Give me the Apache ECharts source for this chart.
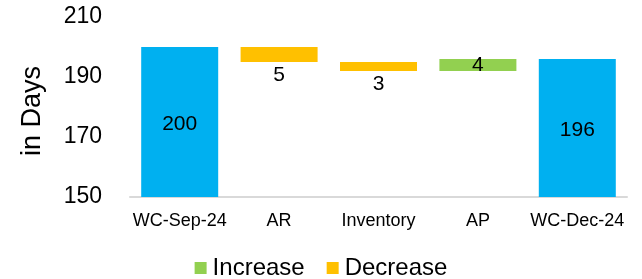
<!DOCTYPE html>
<html>
<head>
<meta charset="utf-8">
<script src="https://cdn.jsdelivr.net/npm/echarts@6/dist/echarts.min.js"></script>
<style>html,body{margin:0;padding:0;background:#fff}#c{width:642px;height:279px}</style>
</head>
<body>
<div id="c"></div>
<script>
var categories = ['WC-Sep-24', 'AR', 'Inventory', 'AP', 'WC-Dec-24'];
var totals = [200, '-', '-', '-', 196];
var increase = ['-', '-', '-', 4, '-'];
var decrease = ['-', 5, 3, '-', '-'];
var yTicks = [150, 170, 190, 210];

// waterfall base derived from the start total and the changes
var base = [];
var running = totals[0];
for (var i = 0; i < categories.length; i++) {
  if (increase[i] !== '-') { base.push(running); running += increase[i]; }
  else if (decrease[i] !== '-') { running -= decrease[i]; base.push(running); }
  else { base.push('-'); }
}

var FONT = '"Liberation Sans", Arial, sans-serif';
var chart = echarts.init(document.getElementById('c'), null, {renderer: 'canvas'});
chart.setOption({
  animation: false,
  textStyle: {fontFamily: FONT},
  grid: {left: 130, right: 15, top: 17, bottom: 82, containLabel: false},
  legend: {
    bottom: -6, left: 'center',
    data: ['Increase', 'Decrease'],
    icon: 'rect', itemWidth: 12, itemHeight: 12, itemGap: 22,
    textStyle: {fontSize: 24, color: '#000', fontFamily: FONT, padding: [0, 0, 0, 1]}
  },
  xAxis: {
    type: 'category', data: categories,
    axisLine: {lineStyle: {color: '#d9d9d9', width: 2}},
    axisTick: {show: false},
    axisLabel: {fontSize: 18, color: '#000', margin: 15, interval: 0, fontFamily: FONT}
  },
  yAxis: {
    type: 'value', min: yTicks[0], max: yTicks[yTicks.length - 1], interval: 20,
    name: 'in Days', nameLocation: 'middle', nameGap: 84, nameRotate: 90,
    nameTextStyle: {fontSize: 27, color: '#000', fontFamily: FONT, padding: [0, 0, 0, -8]},
    splitLine: {show: false},
    axisLine: {show: false}, axisTick: {show: false},
    axisLabel: {fontSize: 23, color: '#000', margin: 28, fontFamily: FONT}
  },
  series: [
    {name: 'base', type: 'bar', stack: 'w', data: base, barWidth: 77,
     itemStyle: {color: 'rgba(0,0,0,0)'}, silent: true},
    {name: 'Increase', type: 'bar', stack: 'w', data: increase, barWidth: 77,
     itemStyle: {color: '#92D050'},
     label: {show: true, position: 'inside', fontSize: 21, color: '#000', fontFamily: FONT}},
    {name: 'Decrease', type: 'bar', stack: 'w', data: decrease, barWidth: 77,
     itemStyle: {color: '#FFC000'},
     label: {show: true, position: 'bottom', distance: 3, fontSize: 21, color: '#000', fontFamily: FONT}},
    {name: 'Total', type: 'bar', data: totals, barWidth: 77, barGap: '-100%',
     itemStyle: {color: '#00B0F0'},
     label: {show: true, position: 'inside', offset: [0, 2], fontSize: 21, color: '#000', fontFamily: FONT}}
  ]
});
</script>
</body>
</html>
